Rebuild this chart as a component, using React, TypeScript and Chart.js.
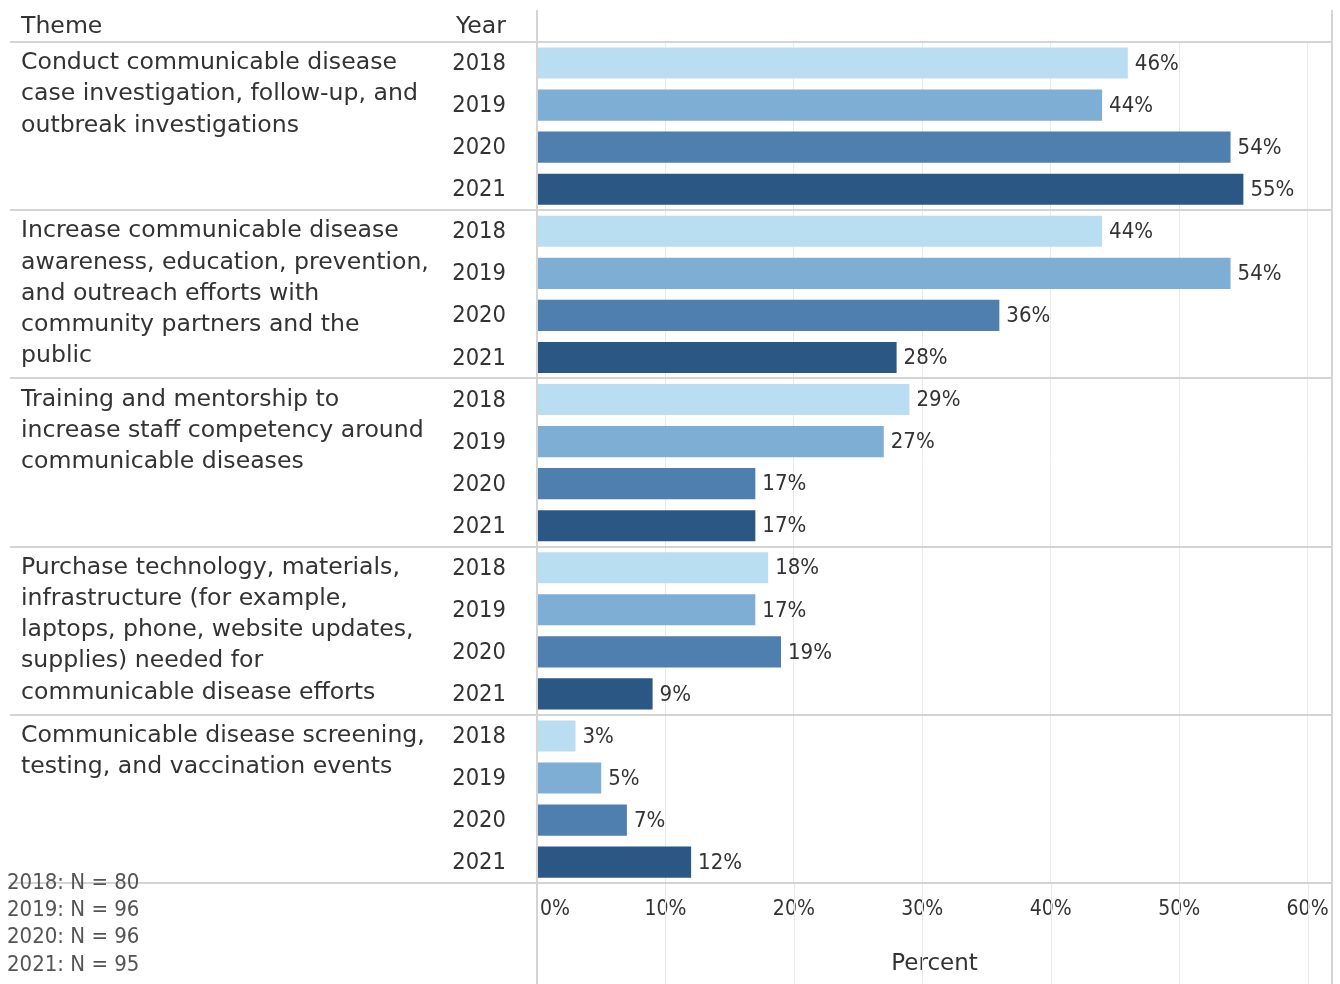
import React, { useEffect, useRef } from "react";
import { Chart, registerables } from "chart.js";

Chart.register(...registerables);

// Themes (wrapped as they appear in the left-hand column)
const themes: string[][] = [
  ["Conduct communicable disease", "case investigation, follow-up, and", "outbreak investigations"],
  ["Increase communicable disease", "awareness, education, prevention,", "and outreach efforts with", "community partners and the", "public"],
  ["Training and mentorship to", "increase staff competency around", "communicable diseases"],
  ["Purchase technology, materials,", "infrastructure (for example,", "laptops, phone, website updates,", "supplies) needed for", "communicable disease efforts"],
  ["Communicable disease screening,", "testing, and vaccination events"],
];

const years = ["2018", "2019", "2020", "2021"];

// Percent of respondents, per theme, for each year
const values2018 = [46, 44, 29, 18, 3];
const values2019 = [44, 54, 27, 17, 5];
const values2020 = [54, 36, 17, 19, 7];
const values2021 = [55, 28, 17, 9, 12];

const sampleSizes = [80, 96, 96, 95];

const yearColors = ["#b9ddf1", "#7eaed3", "#4e7fae", "#2a5783"];

const xTicks = [0, 10, 20, 30, 40, 50, 60];

const SANS = '"DejaVu Sans"';
const COND = '"DejaVu Sans Condensed", "DejaVu Sans"';
const TEXT = "#333333";
const RULE = "#d4d4d4";
const GRID = "#e9e9e9";

const tablePlugin = {
  id: "tableLayout",
  beforeDatasetsDraw(chart: any) {
    const { ctx, chartArea } = chart;
    const x = chart.scales.x;
    ctx.save();
    // extend the value gridlines below the axis
    ctx.strokeStyle = GRID;
    ctx.lineWidth = 1;
    for (const t of x.ticks) {
      if (t.value === 0) continue;
      const px = Math.round(x.getPixelForValue(t.value)) + 0.5;
      ctx.beginPath();
      ctx.moveTo(px, chartArea.bottom);
      ctx.lineTo(px, chart.height);
      ctx.stroke();
    }
    ctx.restore();
  },
  afterDatasetsDraw(chart: any) {
    const { ctx, chartArea } = chart;
    const y = chart.scales.y;
    const n = chart.data.labels.length;
    const half = (y.getPixelForValue(1) - y.getPixelForValue(0)) / 2;
    ctx.save();

    // horizontal rules between theme groups
    ctx.strokeStyle = RULE;
    ctx.lineWidth = 2;
    for (let i = 0; i <= n; i++) {
      const py = Math.round(y.getPixelForValue(i) - half);
      ctx.beginPath();
      ctx.moveTo(10, py);
      ctx.lineTo(chartArea.right, py);
      ctx.stroke();
    }
    // vertical rules: table / plot divider and right edge
    ctx.beginPath();
    ctx.moveTo(chartArea.left, 10);
    ctx.lineTo(chartArea.left, chart.height);
    ctx.moveTo(chartArea.right, 10);
    ctx.lineTo(chartArea.right, chart.height);
    ctx.stroke();

    // column headers
    ctx.fillStyle = TEXT;
    ctx.textBaseline = "middle";
    ctx.font = `23.6px ${SANS}`;
    ctx.textAlign = "left";
    ctx.fillText("Theme", 21, 27);
    ctx.textAlign = "right";
    ctx.fillText("Year", 506, 27);

    // theme text
    ctx.textAlign = "left";
    themes.forEach((lines, i) => {
      const top = y.getPixelForValue(i) - half;
      lines.forEach((line, k) => {
        ctx.fillText(line, 21, top + 21 + k * 31.2);
      });
    });

    // year labels and value labels beside each bar
    chart.data.datasets.forEach((ds: any, di: number) => {
      const meta = chart.getDatasetMeta(di);
      meta.data.forEach((bar: any, bi: number) => {
        ctx.fillStyle = TEXT;
        ctx.font = `23.5px ${COND}`;
        ctx.textAlign = "right";
        ctx.fillText(ds.label, 506, bar.y + 1);
        ctx.font = `22px ${COND}`;
        ctx.textAlign = "left";
        ctx.fillText(`${ds.data[bi]}%`, bar.x + 7, bar.y + 1);
      });
    });

    // sample sizes
    ctx.fillStyle = "#555555";
    ctx.font = `22px ${COND}`;
    ctx.textAlign = "left";
    years.forEach((yr, i) => {
      ctx.fillText(`${yr}: N = ${sampleSizes[i]}`, 7, 883 + i * 27.3);
    });
    ctx.restore();
  },
};

export default function App() {
  const canvasRef = useRef<HTMLCanvasElement>(null);

  useEffect(() => {
    const series = [values2018, values2019, values2020, values2021];
    const chart = new Chart(canvasRef.current!, {
      type: "bar",
      data: {
        labels: themes.map((t) => t.join(" ")),
        datasets: years.map((yr, i) => ({
          label: yr,
          data: series[i],
          backgroundColor: yearColors[i],
          borderWidth: 0,
          categoryPercentage: 1,
          barPercentage: 0.74,
        })),
      },
      plugins: [tablePlugin],
      options: {
        indexAxis: "y",
        animation: false,
        responsive: false,
        layout: { autoPadding: false, padding: { left: 537, right: 8, top: 42, bottom: 6 } },
        plugins: {
          legend: { display: false },
          tooltip: { enabled: false },
        },
        scales: {
          y: { display: false },
          x: {
            min: 0,
            max: 61.9,
            afterBuildTicks: (scale: any) => {
              scale.ticks = xTicks.map((v) => ({ value: v }));
            },
            afterFit: (scale: any) => {
              scale.paddingLeft = 0;
              scale.paddingRight = 0;
            },
            grid: { color: GRID, lineWidth: 1, drawTicks: false },
            border: { display: false },
            ticks: {
              padding: 14,
              color: TEXT,
              font: { family: COND, size: 21 },
              callback: (v: any) => (v === 0 ? "\u00a0\u00a0\u00a0\u00a0\u00a0\u00a00%" : `${v}%`),
              maxRotation: 0,
            },
            title: {
              display: true,
              text: "Percent",
              color: TEXT,
              font: { family: SANS, size: 23 },
              padding: { top: 14, bottom: 0 },
            },
          },
        },
      },
    });
    return () => chart.destroy();
  }, []);

  return (
    <div style={{ position: "absolute", left: 0, top: 0, width: 1340, height: 984, background: "#fff" }}>
      <canvas ref={canvasRef} width={1340} height={984} style={{ display: "block" }} />
    </div>
  );
}
